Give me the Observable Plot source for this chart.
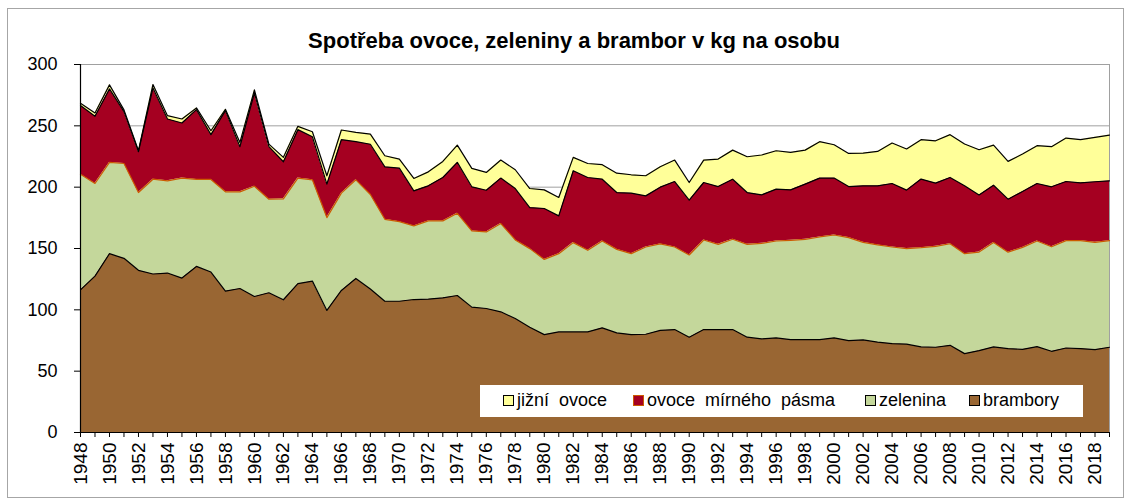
<!DOCTYPE html>
<html>
<head>
<meta charset="utf-8">
<script src="https://cdn.jsdelivr.net/npm/d3@7"></script>
<script src="https://cdn.jsdelivr.net/npm/@observablehq/plot@0.6"></script>
<style>
  html, body { margin: 0; padding: 0; background: #fff; }
  #wrap { position: relative; width: 1129px; height: 501px; font-family: "Liberation Sans", Arial, sans-serif; overflow: hidden; }
  #frame { position: absolute; left: 7px; top: 8px; width: 1117px; height: 490px; border: 1.5px solid #a6a6a6; box-sizing: border-box; pointer-events: none; }
  #title { position: absolute; top: 28px; left: 224px; width: 700px; text-align: center; font-weight: bold; font-size: 22px; color: #000; }
  #chart { position: absolute; left: 0; top: 0; }
  #legend { position: absolute; left: 480px; top: 385px; width: 603px; height: 32px; background: #fff; }
  .item { position: absolute; top: 5px; font-size: 18px; white-space: pre; color: #000; line-height: 21px; }
  .sw { display: inline-block; width: 9px; height: 9px; border: 1px solid #000; margin-right: 3px; vertical-align: 0px; }
</style>
</head>
<body>
<div id="wrap">
  <div id="chart"></div>
  <div id="title">Spotřeba ovoce, zeleniny a brambor v kg na osobu</div>
  <div id="legend"></div>
  <div id="frame"></div>
</div>
<script>
const years = d3.range(1948, 2020);
const seriesNames = ["brambory", "zelenina", "ovoce  mírného  pásma", "jižní  ovoce"];
const brambory = [116.3,127.5,145.8,142.0,132.2,129.2,130.0,125.9,135.4,130.8,115.3,117.4,110.9,113.9,108.2,121.3,123.4,99.5,115.8,125.6,
  117.0,107.0,107.0,108.4,108.7,109.8,111.7,102.2,101.1,98.4,92.9,85.8,79.8,82.0,82.0,82.0,85.3,81.2,79.8,80.1,
  83.2,83.9,77.7,83.9,83.9,83.9,77.7,76.3,77.1,75.7,75.7,75.7,77.1,74.9,75.5,73.6,72.5,72.0,69.8,69.5,
  71.1,64.3,66.8,69.8,68.4,67.8,70.0,66.2,68.9,68.4,67.6,69.5];
const zelenina = [94.3,75.5,74.4,77.3,63.4,77.3,75.2,81.5,70.9,75.5,80.9,78.8,89.9,76.3,82.3,86.1,82.6,75.7,79.3,80.4,
  77.0,66.8,64.9,60.0,63.8,62.7,67.0,62.1,62.4,71.9,64.1,64.1,61.3,63.8,72.8,66.5,70.8,68.1,66.0,71.1,
  70.5,67.3,67.0,73.0,69.5,73.6,75.7,77.9,79.0,81.0,81.8,83.7,83.9,84.0,79.5,79.3,78.7,77.9,80.9,82.3,
  82.8,81.5,80.3,85.0,78.6,83.1,86.1,85.2,87.5,88.0,87.4,86.9];
const ovoceMirne = [55.9,54.8,59.9,42.3,33.3,74.4,50.4,44.9,56.9,36.5,66.2,36.8,76.0,42.8,30.2,39.5,35.1,27.3,43.6,31.1,
  41.0,42.8,43.6,28.6,28.6,35.4,41.5,36.0,34.0,37.1,41.9,33.5,41.5,30.8,58.6,59.4,50.4,46.3,49.3,41.7,
  46.3,53.4,44.7,46.9,47.1,49.0,42.2,39.5,42.3,41.1,45.0,48.0,46.4,41.6,46.1,48.2,51.8,47.7,55.9,51.5,
  54.0,55.3,46.6,46.8,43.2,45.6,46.9,48.9,48.2,47.1,49.4,48.8];
const jizniOvoce = [1.9,2.7,3.3,1.4,0.8,2.8,2.7,3.3,1.4,3.2,1.1,3.5,2.5,2.1,3.6,2.7,4.1,6.8,7.9,7.6,
  8.3,9.0,7.4,10.1,11.4,13.1,14.1,15.0,14.5,14.7,15.3,15.5,15.2,15.0,10.9,11.4,11.8,15.8,15.0,16.4,
  16.6,17.5,14.4,18.3,22.4,23.7,29.2,32.5,31.3,30.5,27.7,29.7,27.2,27.0,26.7,28.0,33.0,33.5,32.1,34.5,
  34.9,34.1,36.8,32.7,30.8,30.5,30.8,32.7,35.4,35.2,36.2,37.3];
const yTicks = [0, 50, 100, 150, 200, 250, 300];
const xLabelYears = d3.range(1948, 2020, 2);
const fills = ["#996633", "#c4d79b", "#a50021", "#ffff99"];
const topStrokes = ["#000000", "#cc5a00", "#000000", "#000000"];
const legendOrder = [3, 2, 1, 0];
const legendX = [23, 153, 385, 489];

// stacking
const seriesVals = [brambory, zelenina, ovoceMirne, jizniOvoce];
const stacked = seriesVals.map(() => []);
years.forEach((yr, i) => {
  let base = 0;
  seriesVals.forEach((vals, s) => {
    const top = base + vals[i];
    stacked[s].push({year: yr, y1: base, y2: top});
    base = top;
  });
});

const marks = [
  Plot.ruleY(yTicks.filter(d => d > 0), {stroke: "#a0a0a0", strokeWidth: 1}),
  Plot.ruleX([2019], {stroke: "#a0a0a0", strokeWidth: 1})
];
stacked.forEach((rows, s) => {
  marks.push(Plot.areaY(rows, {x: "year", y1: "y1", y2: "y2", fill: fills[s], curve: "linear"}));
});
stacked.forEach((rows, s) => {
  marks.push(Plot.lineY(rows, {x: "year", y: "y2", stroke: topStrokes[s], strokeWidth: 1.2, curve: "linear"}));
});
marks.push(
  Plot.ruleX([1948], {stroke: "#000", strokeWidth: 1.2}),
  Plot.ruleY([0], {stroke: "#000", strokeWidth: 1.2}),
  Plot.axisY({ticks: yTicks, tickSize: 6, tickPadding: 17, fontSize: 18, stroke: "#000", fill: "#000", label: null}),
  Plot.axisX({ticks: years, tickSize: 5, tickFormat: () => "", stroke: "#000", label: null}),
  Plot.axisX({ticks: xLabelYears, tickSize: 0, tickPadding: 10, tickRotate: -90, fontSize: 19, fill: "#000", tickFormat: d => String(d), label: null})
);

const chart = Plot.plot({
  width: 1129,
  height: 501,
  marginTop: 64,
  marginBottom: 69,
  marginLeft: 80,
  marginRight: 20,
  style: {fontFamily: "'Liberation Sans', Arial, sans-serif", background: "transparent", color: "#000"},
  x: {type: "linear", domain: [1948, 2019]},
  y: {domain: [0, 300]},
  marks
});
document.getElementById("chart").appendChild(chart);

const legend = document.getElementById("legend");
legendOrder.forEach((s, k) => {
  const it = document.createElement("div");
  it.className = "item";
  it.style.left = legendX[k] + "px";
  const sw = document.createElement("span");
  sw.className = "sw";
  sw.style.background = fills[s];
  sw.style.borderColor = s === 2 ? "#cc5a00" : "#000";
  it.appendChild(sw);
  it.appendChild(document.createTextNode(seriesNames[s]));
  legend.appendChild(it);
});
</script>
</body>
</html>
